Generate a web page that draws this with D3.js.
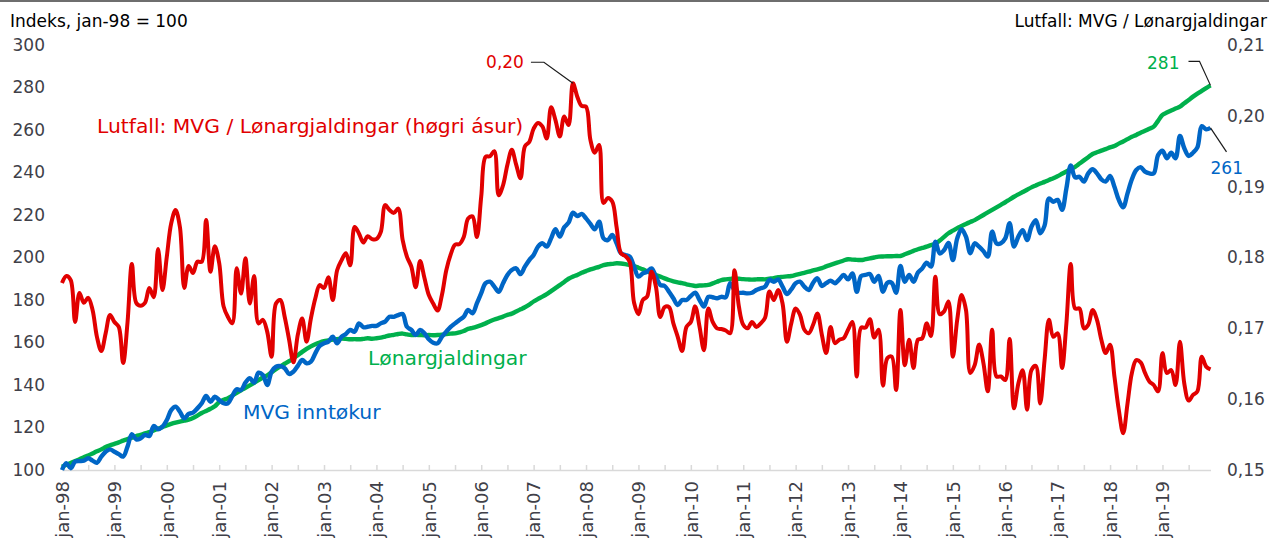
<!DOCTYPE html>
<html lang="nn">
<head>
<meta charset="utf-8">
<title>MVG og lønargjaldingar</title>
<script src="https://cdn.jsdelivr.net/npm/d3@7"></script>
<style>
  body { margin: 0; background: #fff; }
  svg { display: block; font-family: "DejaVu Sans", Verdana, sans-serif; }
</style>
</head>
<body>
<script>
// monthly data, jan-98 .. des-19
var monthNames = ["jan", "feb", "mar", "apr", "mai", "jun", "jul", "aug", "sep", "okt", "nov", "des"];
var startYear = 1998;

// Lønargjaldingar, index jan-98 = 100 (left axis)
var wages = [
  101.5, 102.5, 103.3, 104.2, 105.0, 106.0, 106.8, 107.8, 108.8, 109.7, 110.8, 111.6,
  112.3, 113.0, 113.8, 114.5, 115.2, 116.0, 116.5, 117.2, 117.8, 118.6, 119.4, 120.2,
  121.0, 121.7, 122.3, 122.8, 123.2, 123.7, 124.5, 125.6, 126.8, 127.8, 128.8, 130.0,
  132.0, 133.0, 133.8, 135.0, 136.3, 137.5, 138.7, 139.8, 141.0, 142.3, 143.5, 144.5,
  146.0, 147.5, 148.8, 150.0, 151.2, 152.6, 154.0, 155.6, 157.0, 158.2, 159.2, 160.0,
  160.6, 161.0, 161.4, 161.6, 161.8, 161.7, 161.5, 161.6, 161.5, 161.7, 162.0, 161.8,
  162.0, 162.3, 162.8, 163.3, 163.6, 164.0, 164.2, 163.8, 163.5, 163.6, 163.5, 163.4,
  163.5, 163.4, 163.5, 163.7, 164.0, 164.2, 164.3, 164.8, 165.4, 166.4, 166.9, 167.5,
  168.2, 169.0, 170.0, 170.8, 171.5, 172.2, 173.0, 173.6, 174.6, 175.6, 176.6, 177.8,
  179.3, 180.5, 181.6, 182.8, 184.2, 185.6, 187.0, 188.5, 190.0, 191.0, 191.8, 192.8,
  193.6, 194.4, 195.0, 195.6, 196.4, 196.8, 197.0, 197.3, 197.2, 196.9, 196.5, 196.0,
  195.2, 194.4, 193.5, 192.6, 191.8, 191.0, 190.2, 189.4, 188.8, 188.3, 187.9, 187.4,
  187.0, 186.6, 186.8, 186.9, 187.1, 187.8, 188.6, 189.4, 189.7, 189.9, 190.2, 190.0,
  189.8, 189.7, 189.6, 189.7, 189.8, 189.7, 190.0, 190.3, 190.7, 190.9, 191.1, 191.3,
  191.8, 192.3, 192.8, 193.3, 193.9, 194.4, 195.0, 195.8, 196.5, 197.2, 197.9, 198.6,
  199.2, 199.0, 198.9, 198.8, 199.2, 199.6, 200.0, 200.4, 200.5, 200.6, 200.6, 200.7,
  200.7, 201.5, 202.3, 203.1, 203.9, 204.5, 205.1, 205.8, 206.4, 208.0, 209.7, 211.4,
  212.6, 213.8, 214.8, 215.8, 216.7, 217.6, 218.8, 220.0, 221.2, 222.4, 223.6, 224.8,
  226.0, 227.3, 228.6, 229.7, 230.8, 231.9, 233.0, 233.9, 234.8, 235.6, 236.5, 237.3,
  238.3, 239.4, 240.5, 241.6, 242.7, 244.2, 245.7, 247.2, 248.7, 249.5, 250.3, 251.0,
  251.8, 252.5, 253.6, 254.6, 255.7, 256.8, 257.7, 258.7, 259.6, 260.6, 261.6, 264.3,
  267.1, 268.2, 269.2, 270.1, 271.0, 272.6, 274.1, 275.7, 277.1, 278.4, 279.7, 281.0
];

// MVG inntøkur, index jan-98 = 100 (left axis)
var vat = [
  100.0, 103.2, 100.8, 103.9, 104.2, 104.4, 105.5, 104.4, 103.4, 106.3, 108.6, 109.7,
  108.6, 107.5, 106.3, 111.0, 116.9, 114.4, 114.9, 116.5, 116.0, 120.7, 119.2, 120.4,
  123.5, 128.2, 129.8, 127.4, 124.3, 126.4, 127.0, 129.0, 131.4, 134.8, 132.1, 134.5,
  132.9, 131.4, 131.4, 134.8, 138.0, 137.6, 141.1, 143.2, 141.1, 145.8, 144.7, 140.0,
  146.3, 148.6, 148.9, 147.9, 145.2, 146.3, 149.0, 151.8, 150.2, 151.0, 154.9, 158.4,
  159.6, 160.4, 162.7, 159.6, 162.7, 164.0, 165.9, 165.1, 169.0, 167.2, 167.4, 167.8,
  167.8, 169.0, 169.8, 172.1, 172.1, 172.9, 173.4, 167.4, 165.9, 163.5, 165.9, 164.3,
  161.5, 159.9, 159.6, 162.7, 165.1, 167.4, 169.0, 170.6, 172.1, 175.3, 173.7, 178.4,
  183.2, 187.9, 188.6, 186.3, 183.9, 187.9, 191.8, 194.1, 194.9, 192.2, 195.7, 198.8,
  201.2, 205.1, 206.7, 205.1, 209.0, 213.3, 209.8, 214.2, 216.4, 221.1, 219.5, 220.5,
  218.4, 215.8, 213.3, 216.8, 209.0, 208.2, 210.6, 206.7, 202.0, 201.2, 200.4, 195.7,
  191.0, 192.5, 193.3, 194.9, 191.0, 187.1, 186.6, 183.9, 180.8, 177.6, 180.0, 180.0,
  181.9, 183.4, 180.0, 176.9, 181.5, 181.3, 180.8, 181.5, 181.3, 187.9, 184.7, 183.4,
  183.4, 183.1, 183.4, 184.7, 185.5, 186.3, 189.5, 188.6, 189.7, 186.3, 182.8, 185.0,
  187.9, 188.6, 186.3, 184.7, 188.1, 190.2, 186.6, 187.9, 189.1, 187.9, 189.7, 191.8,
  189.7, 192.5, 183.9, 191.3, 191.8, 192.2, 188.6, 191.3, 183.9, 188.1, 188.1, 183.4,
  196.0, 188.6, 191.8, 188.6, 192.9, 194.9, 197.6, 195.7, 207.4, 201.9, 203.5, 206.9,
  198.8, 209.0, 213.3, 209.8, 202.0, 206.7, 205.1, 203.0, 200.4, 212.2, 206.6, 206.7,
  209.0, 216.1, 205.1, 209.8, 212.9, 208.2, 214.5, 217.6, 211.4, 215.0, 227.8, 226.2,
  227.1, 222.4, 232.5, 243.3, 237.7, 238.0, 235.7, 239.6, 241.5, 239.6, 236.8, 235.7,
  238.4, 233.3, 227.1, 223.6, 230.2, 236.8, 241.2, 242.5, 240.4, 239.6, 239.6, 248.2,
  250.3, 246.7, 249.3, 246.7, 257.2, 251.4, 247.8, 249.3, 251.8, 261.8, 260.3, 261.0
];

// Lutfall MVG / Lønargjaldingar (right axis)
var ratio = [
  0.1764, 0.1774, 0.1768, 0.1709, 0.1750, 0.1736, 0.1743, 0.1726, 0.1688, 0.1668, 0.1693, 0.1719,
  0.1709, 0.1702, 0.1651, 0.1708, 0.1791, 0.1736, 0.1732, 0.1736, 0.1757, 0.1744, 0.1812, 0.1754,
  0.1801, 0.1848, 0.1867, 0.1843, 0.1757, 0.1788, 0.1778, 0.1794, 0.1794, 0.1853, 0.1780, 0.1816,
  0.1792, 0.1731, 0.1716, 0.1707, 0.1785, 0.1749, 0.1799, 0.1735, 0.1774, 0.1707, 0.1712, 0.1695,
  0.1660, 0.1735, 0.1740, 0.1716, 0.1684, 0.1652, 0.1691, 0.1714, 0.1681, 0.1714, 0.1742, 0.1761,
  0.1757, 0.1772, 0.1740, 0.1782, 0.1796, 0.1806, 0.1789, 0.1843, 0.1834, 0.1821, 0.1830, 0.1826,
  0.1826, 0.1836, 0.1874, 0.1867, 0.1863, 0.1869, 0.1825, 0.1801, 0.1787, 0.1758, 0.1795, 0.1771,
  0.1747, 0.1735, 0.1725, 0.1747, 0.1782, 0.1804, 0.1818, 0.1819, 0.1829, 0.1855, 0.1858, 0.1829,
  0.1886, 0.1942, 0.1943, 0.1950, 0.1888, 0.1902, 0.1931, 0.1952, 0.1931, 0.1912, 0.1957, 0.1963,
  0.1982, 0.1990, 0.1985, 0.1968, 0.2012, 0.1994, 0.1971, 0.1999, 0.1987, 0.2046, 0.2027, 0.2014,
  0.2013, 0.1966, 0.1948, 0.1959, 0.1877, 0.1884, 0.1879, 0.1843, 0.1806, 0.1802, 0.1794, 0.1736,
  0.1720, 0.1740, 0.1745, 0.1780, 0.1759, 0.1716, 0.1730, 0.1730, 0.1707, 0.1688, 0.1668, 0.1702,
  0.1709, 0.1731, 0.1702, 0.1669, 0.1728, 0.1709, 0.1700, 0.1699, 0.1697, 0.1693, 0.1782, 0.1731,
  0.1705, 0.1700, 0.1709, 0.1702, 0.1707, 0.1715, 0.1752, 0.1740, 0.1754, 0.1735, 0.1681, 0.1707,
  0.1728, 0.1719, 0.1698, 0.1693, 0.1705, 0.1721, 0.1691, 0.1665, 0.1702, 0.1679, 0.1684, 0.1686,
  0.1698, 0.1709, 0.1632, 0.1701, 0.1701, 0.1713, 0.1687, 0.1698, 0.1619, 0.1658, 0.1660, 0.1613,
  0.1726, 0.1648, 0.1684, 0.1644, 0.1684, 0.1686, 0.1707, 0.1689, 0.1773, 0.1720, 0.1724, 0.1738,
  0.1660, 0.1712, 0.1747, 0.1726, 0.1637, 0.1648, 0.1677, 0.1651, 0.1611, 0.1698, 0.1632, 0.1632,
  0.1627, 0.1685, 0.1587, 0.1622, 0.1641, 0.1585, 0.1641, 0.1647, 0.1594, 0.1655, 0.1712, 0.1688,
  0.1693, 0.1644, 0.1707, 0.1791, 0.1728, 0.1728, 0.1700, 0.1705, 0.1726, 0.1712, 0.1684, 0.1665,
  0.1677, 0.1632, 0.1585, 0.1552, 0.1594, 0.1637, 0.1655, 0.1652, 0.1637, 0.1625, 0.1620, 0.1611,
  0.1665, 0.1637, 0.1641, 0.1620, 0.1681, 0.1622, 0.1598, 0.1606, 0.1611, 0.1660, 0.1646, 0.1642
];

var leftTicks = [100, 120, 140, 160, 180, 200, 220, 240, 260, 280, 300];
var rightTicks = [0.15, 0.16, 0.17, 0.18, 0.19, 0.20, 0.21];

var months = wages.map(function(d, i) {
  var yy = (startYear + Math.floor(i / 12)) % 100;
  return monthNames[i % 12] + "-" + (yy < 10 ? "0" + yy : "" + yy);
});

var width = 1269, height = 542;
var red = "#e10000", blue = "#0066c6", green = "#00b04c", textCol = "#404048";

var nb = d3.formatLocale({decimal: ",", thousands: " ", grouping: [3], currency: ["", ""]});
var fmt2 = nb.format(".2f");

var svg = d3.select("body").append("svg")
  .attr("width", width)
  .attr("height", height);

// frame line at the top
svg.append("line")
  .attr("x1", 0).attr("x2", width)
  .attr("y1", 1).attr("y2", 1)
  .attr("stroke", "#6e6e6e")
  .attr("stroke-width", 2);

var x = d3.scalePoint().domain(months).range([62, 1210.5]);
var yL = d3.scaleLinear().domain([100, 300]).range([470, 45]);
var yR = d3.scaleLinear().domain([0.15, 0.21]).range([470, 45]);

// left axis
var gl = svg.append("g")
  .attr("transform", "translate(45,0)")
  .call(d3.axisLeft(yL).tickValues(leftTicks).tickSize(0).tickPadding(0));
gl.select(".domain").remove();
gl.selectAll("text")
  .attr("font-size", 17)
  .attr("font-family", "DejaVu Sans, Verdana, sans-serif")
  .attr("fill", textCol);

// right axis
var gr = svg.append("g")
  .attr("transform", "translate(1227,0)")
  .call(d3.axisRight(yR).tickValues(rightTicks).tickSize(0).tickPadding(0).tickFormat(fmt2));
gr.select(".domain").remove();
gr.selectAll("text")
  .attr("font-size", 17)
  .attr("font-family", "DejaVu Sans, Verdana, sans-serif")
  .attr("fill", textCol);

// bottom axis, ticks every half year, labels every january
var halfYears = months.filter(function(d, i) { return i % 6 == 0; });
var gx = svg.append("g")
  .attr("transform", "translate(0,470)")
  .call(d3.axisBottom(x).tickValues(halfYears).tickSize(-5).tickSizeOuter(0)
    .tickFormat(function(d) { return d.indexOf("jan") == 0 ? d : ""; }));
gx.select(".domain").attr("stroke", "#d9d9d9").attr("stroke-width", 1.5);
gx.selectAll(".tick line").attr("stroke", "#d9d9d9").attr("stroke-width", 1.5);
gx.selectAll("text")
  .attr("transform", "rotate(-90)")
  .attr("x", -11)
  .attr("y", 0)
  .attr("dy", "0.35em")
  .attr("text-anchor", "end")
  .attr("font-size", 18)
  .attr("font-family", "DejaVu Sans, Verdana, sans-serif")
  .attr("fill", textCol);

// series
function lineFor(scale) {
  return d3.line()
    .x(function(d, i) { return x(months[i]); })
    .y(function(d) { return scale(d); })
    .curve(d3.curveCatmullRom.alpha(0.5));
}

svg.append("path").datum(wages)
  .attr("d", lineFor(yL))
  .attr("fill", "none").attr("stroke", green).attr("stroke-width", 4.4)
  .attr("stroke-linejoin", "round");

svg.append("path").datum(vat)
  .attr("d", lineFor(yL))
  .attr("fill", "none").attr("stroke", blue).attr("stroke-width", 4.4)
  .attr("stroke-linejoin", "round");

svg.append("path").datum(ratio)
  .attr("d", lineFor(yR))
  .attr("fill", "none").attr("stroke", red).attr("stroke-width", 4)
  .attr("stroke-linejoin", "round");

// titles
svg.append("text")
  .attr("x", 10).attr("y", 27)
  .attr("font-size", 17).attr("fill", "#000")
  .text("Indeks, jan-98 = 100");

svg.append("text")
  .attr("x", 1267).attr("y", 27)
  .attr("text-anchor", "end")
  .attr("font-size", 17).attr("fill", "#000")
  .text("Lutfall: MVG / Lønargjaldingar");

// series names
svg.append("text")
  .attr("x", 97).attr("y", 133)
  .attr("font-size", 20.3).attr("fill", red)
  .text("Lutfall: MVG / Lønargjaldingar (høgri ásur)");

svg.append("text")
  .attr("x", 243).attr("y", 419)
  .attr("font-size", 20.3).attr("fill", blue)
  .text("MVG inntøkur");

svg.append("text")
  .attr("x", 368).attr("y", 365)
  .attr("font-size", 20.3).attr("fill", green)
  .text("Lønargjaldingar");

// value callouts
var last = months.length - 1;
var peak = d3.maxIndex(ratio);
var px = x(months[peak]), py = yR(ratio[peak]);
var ex = x(months[last]);

function leader(points) {
  svg.append("path")
    .attr("d", d3.line()(points))
    .attr("fill", "none")
    .attr("stroke", "#1a1a1a")
    .attr("stroke-width", 1.2);
}

leader([[px - 42, py - 21], [px - 29, py - 21], [px, py]]);
svg.append("text")
  .attr("x", px - 49).attr("y", py - 15)
  .attr("text-anchor", "end")
  .attr("font-size", 17).attr("fill", red)
  .text(fmt2(ratio[peak]));

var gy = yL(wages[last]);
leader([[ex - 22, gy - 24], [ex - 11, gy - 24], [ex, gy]]);
svg.append("text")
  .attr("x", ex - 31).attr("y", gy - 16)
  .attr("text-anchor", "end")
  .attr("font-size", 17).attr("fill", green)
  .text(d3.format(".0f")(wages[last]));

var by = yL(vat[last]);
leader([[ex, by], [ex + 16, by + 24]]);
svg.append("text")
  .attr("x", ex).attr("y", by + 46)
  .attr("font-size", 17).attr("fill", blue)
  .text(d3.format(".0f")(vat[last]));
</script>
</body>
</html>
